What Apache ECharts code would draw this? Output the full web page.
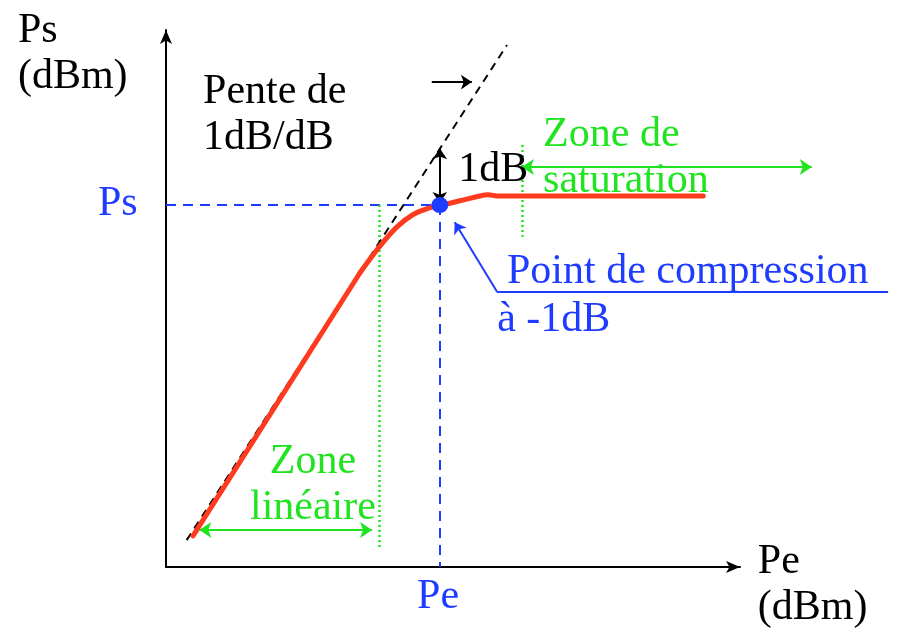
<!DOCTYPE html>
<html>
<head>
<meta charset="utf-8">
<script src="https://cdn.jsdelivr.net/npm/echarts@6/dist/echarts.min.js"></script>
<style>
html,body{margin:0;padding:0;background:#fff;}
#chart{width:899px;height:628px;}
</style>
</head>
<body>
<div id="chart"></div>
<script>
// ---- Data (schematic units: Pe on x, Ps on y, 0..100) ----
const curvePe = [4.7, 33.8, 37.3, 40.2, 43.0, 46.0, 47.7, 51.2, 54.7, 56.1, 57.7, 93.6];
const curvePs = [5.8, 54.8, 59.8, 63.3, 65.6, 66.9, 67.3, 68.2, 69.1, 69.3, 69.1, 69.1];
const linearCount = 2;        // first points form the straight (linear) part
const tangentPe = [3.6, 59.4];
const tangentPs = [5.0, 97.2];
const compressionPe = 47.7;   // Pe at -1dB compression
const compressionPs = 67.4;   // Ps at -1dB compression
const tangentAtPe = 78.0;     // tangent value above the compression point
const linearZoneEnd = 37.1;
const saturationStart = 62.0;

// annotation texts
const texts = ['Ps\n(dBm)', 'Pente de\n1dB/dB', '1dB', 'Zone de\nsaturation', 'Ps',
  'Point de compression', 'à -1dB', 'Zone\nlinéaire', 'Pe', 'Pe\n(dBm)'];
const textPe = [-25.8, 6.45, 50.9, 65.7, -8.4, 59.4, 57.7, 25.6, 47.4, 103.1];
const textPs = [95.6, 84.1, 73.9, 76.2, 67.6, 54.9, 46.0, 15.3, -5.6, -3.4];

const BLACK = '#000000', RED = '#ff3b1f', BLUE = '#1e3cff', GREEN = '#1fe41f';
const textColors = [BLACK, BLACK, BLACK, GREEN, BLUE, BLUE, BLUE, GREEN, BLUE, BLACK];
const textAlign = ['left', 'left', 'left', 'left', 'center', 'left', 'left', 'center', 'center', 'left'];
const FONT = '"Liberation Serif", "Times New Roman", serif';

const chart = echarts.init(document.getElementById('chart'), null, {renderer: 'canvas'});

function seg(x1, y1, x2, y2) { return {coords: [[x1, y1], [x2, y2]]}; }
const curvePts = curvePe.map((x, i) => [x, curvePs[i]]);

const option = {
  animation: false,
  backgroundColor: '#ffffff',
  grid: {left: 166, top: 30, width: 574, height: 537, containLabel: false},
  xAxis: {
    type: 'value', min: 0, max: 100,
    axisLine: {show: true, onZero: false, symbol: ['none', 'arrow'], symbolSize: [9, 14], lineStyle: {color: BLACK, width: 2}},
    axisTick: {show: false}, axisLabel: {show: false}, splitLine: {show: false}
  },
  yAxis: {
    type: 'value', min: 0, max: 100,
    axisLine: {show: true, onZero: false, symbol: ['none', 'arrow'], symbolSize: [9, 14], lineStyle: {color: BLACK, width: 2}},
    axisTick: {show: false}, axisLabel: {show: false}, splitLine: {show: false}
  },
  series: [
    // guide dashed blue lines
    {
      type: 'lines', coordinateSystem: 'cartesian2d', clip: false, silent: true, z: 2,
      lineStyle: {color: BLUE, width: 2, type: [10, 7], opacity: 1},
      data: [seg(0, compressionPs, compressionPe, compressionPs), seg(compressionPe, compressionPs, compressionPe, 0)]
    },
    // green dotted zone limits
    {
      type: 'lines', coordinateSystem: 'cartesian2d', clip: false, silent: true, z: 2,
      lineStyle: {color: GREEN, width: 2.5, type: [2, 3], opacity: 1},
      data: [seg(linearZoneEnd, compressionPs, linearZoneEnd, 3.2), seg(saturationStart, 78.6, saturationStart, 61.5)]
    },
    // tangent (1 dB/dB) dashed black line
    {
      type: 'line', silent: true, z: 3, clip: false, symbol: 'none',
      lineStyle: {color: BLACK, width: 2, type: [8, 6]},
      data: tangentPe.map((x, i) => [x, tangentPs[i]])
    },
    // transfer curve: linear part
    {
      type: 'line', silent: true, z: 4, clip: false, symbol: 'none', smooth: false,
      lineStyle: {color: RED, width: 5, cap: 'round'},
      data: curvePts.slice(0, linearCount)
    },
    // transfer curve: compression and saturation part
    {
      type: 'line', silent: true, z: 4, clip: false, symbol: 'none', smooth: 0.35,
      lineStyle: {color: RED, width: 5, cap: 'round'},
      data: curvePts.slice(linearCount - 1)
    },
    // compression point
    {
      type: 'scatter', silent: true, z: 5, clip: false, symbol: 'circle', symbolSize: [17, 16],
      itemStyle: {color: BLUE, opacity: 1},
      data: [[compressionPe, compressionPs]]
    },
    // green double arrows (zones)
    {
      type: 'lines', coordinateSystem: 'cartesian2d', clip: false, silent: true, z: 3,
      symbol: ['arrow', 'arrow'], symbolSize: 12,
      lineStyle: {color: GREEN, width: 2, opacity: 1},
      data: [seg(5.8, 6.9, 35.9, 6.9), seg(62.0, 74.5, 112.5, 74.5)]
    },
    // black double arrow (1dB)
    {
      type: 'lines', coordinateSystem: 'cartesian2d', clip: false, silent: true, z: 3,
      symbol: ['arrow', 'arrow'], symbolSize: 11,
      lineStyle: {color: BLACK, width: 2, opacity: 1},
      data: [seg(compressionPe, tangentAtPe, compressionPe, 67.8)]
    },
    // black arrow pointing at the tangent
    {
      type: 'lines', coordinateSystem: 'cartesian2d', clip: false, silent: true, z: 3,
      symbol: ['none', 'arrow'], symbolSize: 11,
      lineStyle: {color: BLACK, width: 2, opacity: 1},
      data: [seg(46.3, 90.3, 53.3, 90.3)]
    },
    // blue pointer arrow
    {
      type: 'lines', coordinateSystem: 'cartesian2d', clip: false, silent: true, z: 3,
      symbol: ['none', 'arrow'], symbolSize: 11,
      lineStyle: {color: BLUE, width: 2, opacity: 1},
      data: [seg(57.7, 51.2, 50.3, 64.2)]
    },
    // blue underline
    {
      type: 'lines', coordinateSystem: 'cartesian2d', clip: false, silent: true, z: 3,
      lineStyle: {color: BLUE, width: 2, opacity: 1},
      data: [seg(57.7, 51.2, 125.8, 51.2)]
    },
    // text annotations
    {
      type: 'scatter', silent: true, z: 6, clip: false, symbolSize: 0,
      itemStyle: {opacity: 1},
      data: texts.map((t, i) => ({
        value: [textPe[i], textPs[i]],
        label: {
          show: true, position: [0, 0], formatter: t,
          align: textAlign[i], verticalAlign: 'middle', opacity: 1,
          color: textColors[i], fontFamily: FONT, fontSize: 42, lineHeight: 46
        }
      }))
    }
  ]
};
chart.setOption(option);
</script>
</body>
</html>
